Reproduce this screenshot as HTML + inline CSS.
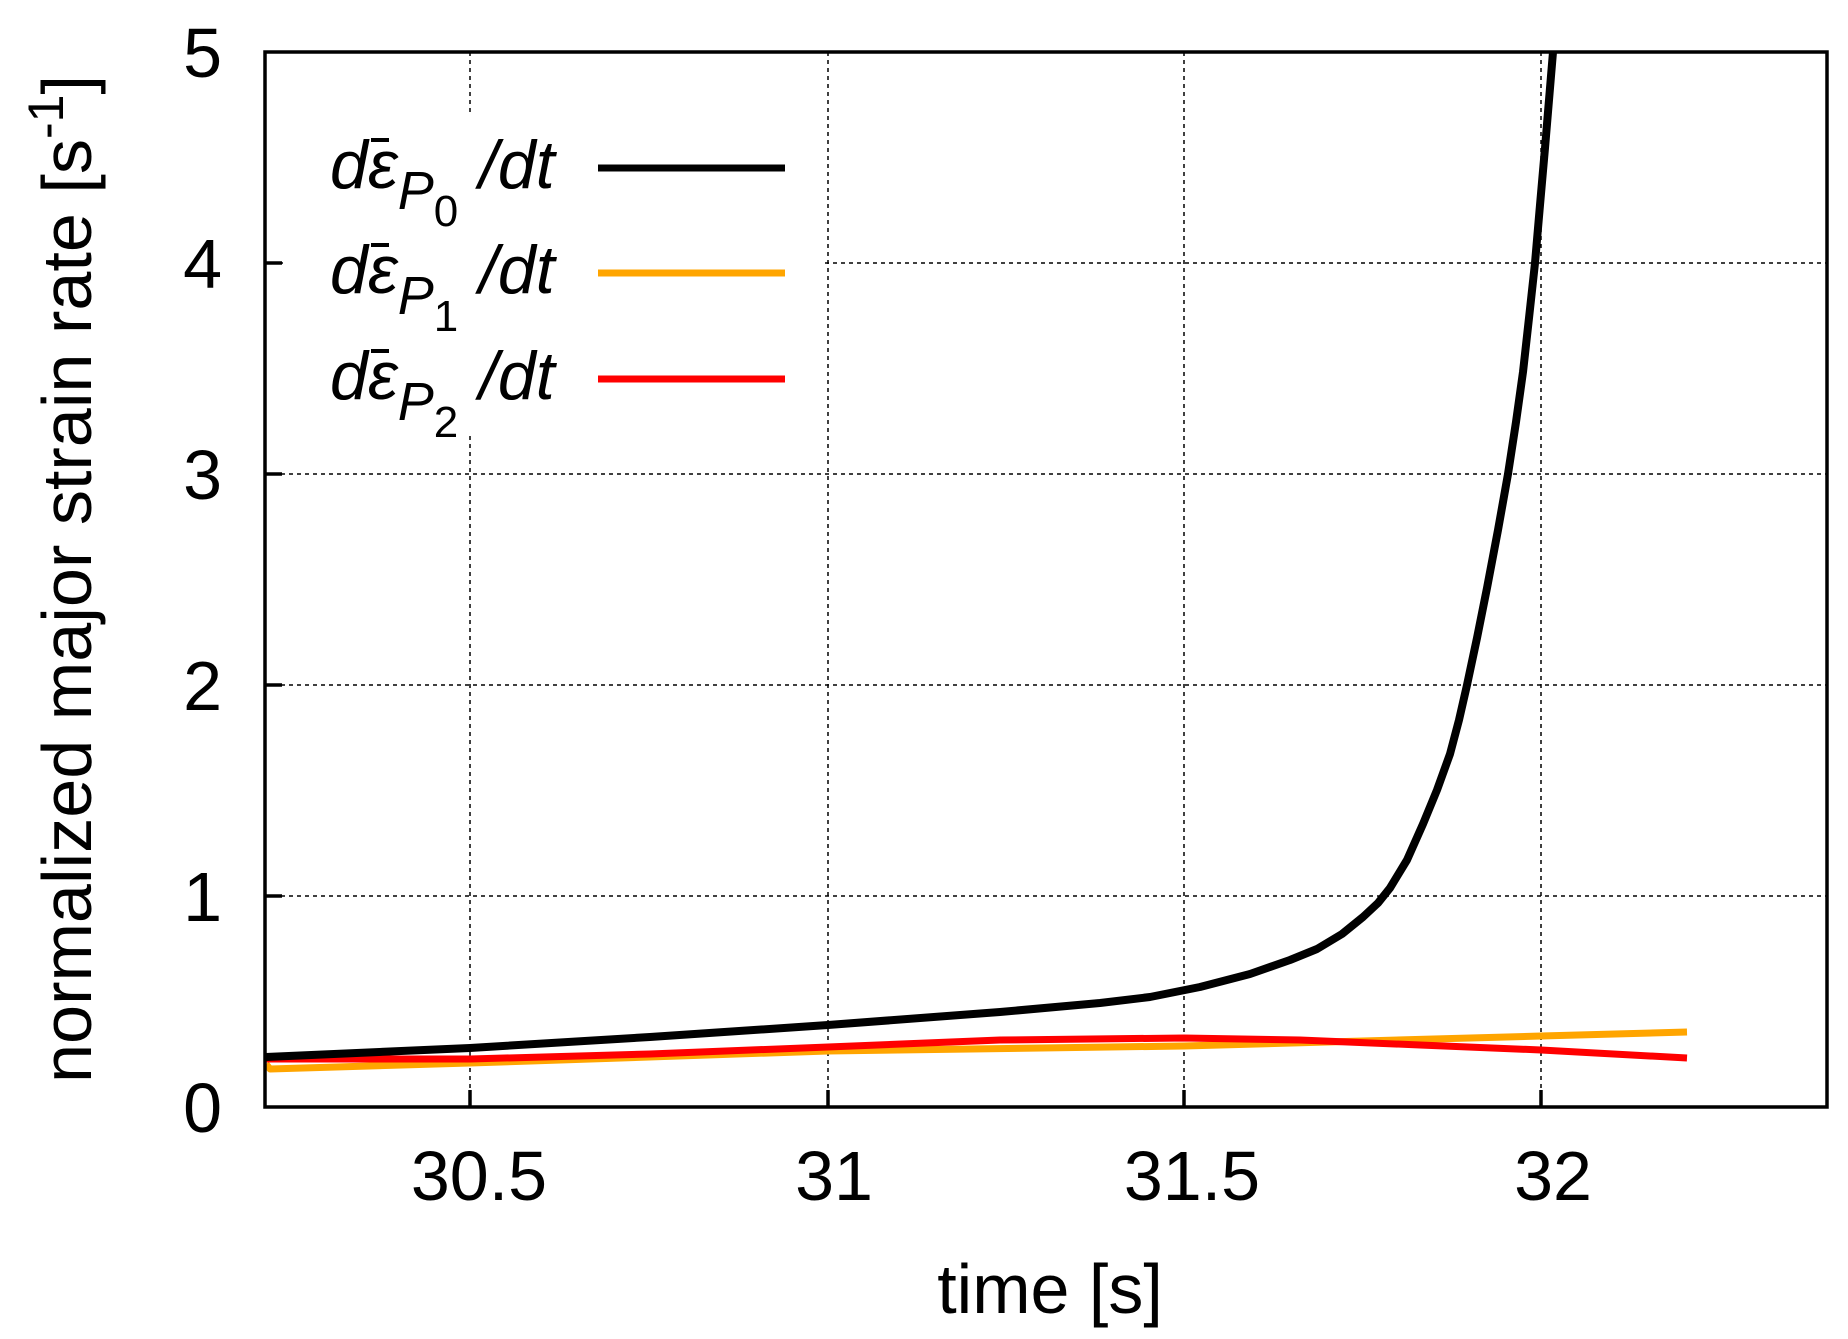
<!DOCTYPE html>
<html><head><meta charset="utf-8"><style>
html,body{margin:0;padding:0;background:#fff;}
svg{display:block;}
text{font-family:"Liberation Sans",sans-serif;fill:#000;}
</style></head><body>
<svg width="1848" height="1339" viewBox="0 0 1848 1339" xmlns="http://www.w3.org/2000/svg">
<rect width="1848" height="1339" fill="#fff"/>
<g stroke="#000" stroke-width="1.5" stroke-dasharray="4,4" fill="none">
<line x1="470" y1="52" x2="470" y2="1107"/>
<line x1="828" y1="52" x2="828" y2="1107"/>
<line x1="1184" y1="52" x2="1184" y2="1107"/>
<line x1="1541" y1="52" x2="1541" y2="1107"/>
<line x1="265" y1="896" x2="1827" y2="896"/>
<line x1="265" y1="685" x2="1827" y2="685"/>
<line x1="265" y1="474" x2="1827" y2="474"/>
<line x1="265" y1="263" x2="1827" y2="263"/>
</g>
<rect x="283" y="115" width="540" height="317" fill="#fff"/>
<g stroke="#000" stroke-width="3.5">
<line x1="470" y1="1107" x2="470" y2="1090"/><line x1="828" y1="1107" x2="828" y2="1090"/>
<line x1="1184" y1="1107" x2="1184" y2="1090"/><line x1="1541" y1="1107" x2="1541" y2="1090"/>
<line x1="265" y1="896" x2="282" y2="896"/><line x1="265" y1="685" x2="282" y2="685"/>
<line x1="265" y1="474" x2="282" y2="474"/><line x1="265" y1="263" x2="282" y2="263"/>
</g>
<g fill="none" stroke-width="7" stroke-linejoin="round">
<polyline stroke="#FFA500" points="266,1064 270,1069 470,1063 828,1051 1184,1046 1541,1036 1687,1032"/>
<polyline stroke="#FF0000" points="266,1059 470,1059 650,1054 828,1047 1000,1040 1184,1038 1300,1040 1420,1045 1541,1050 1687,1058"/>
<polyline stroke="#000" stroke-width="8" points="266,1057 470,1048 650,1037 828,1025 1000,1012 1100,1003 1150,997 1200,987 1250,974 1290,960 1317,949 1342,934 1363,917 1378,903 1390,888 1407,860 1423,824 1437,790 1450,754 1459,720 1467,685 1477,638 1487,588 1498,530 1508,474 1516,422 1523,372 1529,318 1535,263 1540,205 1545,148 1549,100 1553,52"/>
</g>
<rect x="265" y="52" width="1562" height="1055" fill="none" stroke="#000" stroke-width="3.5"/>
<g font-size="70" text-anchor="end">
<text x="222" y="1132">0</text>
<text x="222" y="921">1</text>
<text x="222" y="710">2</text>
<text x="222" y="499">3</text>
<text x="222" y="288">4</text>
<text x="222" y="77">5</text>
</g>
<g font-size="70" text-anchor="middle">
<text x="479" y="1200">30.5</text>
<text x="834" y="1200">31</text>
<text x="1192" y="1200">31.5</text>
<text x="1553" y="1200">32</text>
<text x="1050" y="1313">time [s]</text>
</g>
<text font-size="70" transform="translate(91,1083) rotate(-90)"><tspan textLength="944" lengthAdjust="spacingAndGlyphs">normalized major strain rate [s</tspan><tspan font-size="50" dy="-28">-1</tspan><tspan dy="28">]</tspan></text>
<g font-size="68" font-style="italic">
<text x="330" y="188">dε<tspan font-size="54" dy="21">P</tspan><tspan font-size="44" font-style="normal" dy="17">0</tspan><tspan x="479" dy="-38">/dt</tspan></text>
<text x="330" y="293">dε<tspan font-size="54" dy="21">P</tspan><tspan font-size="44" font-style="normal" dy="17">1</tspan><tspan x="479" dy="-38">/dt</tspan></text>
<text x="330" y="399">dε<tspan font-size="54" dy="21">P</tspan><tspan font-size="44" font-style="normal" dy="17">2</tspan><tspan x="479" dy="-38">/dt</tspan></text>
</g>
<g stroke="#000" stroke-width="4">
<line x1="371" y1="140" x2="389" y2="140"/>
<line x1="371" y1="245" x2="389" y2="245"/>
<line x1="371" y1="351" x2="389" y2="351"/>
</g>
<g stroke-width="7">
<line x1="598" y1="168" x2="785" y2="168" stroke="#000"/>
<line x1="598" y1="273" x2="785" y2="273" stroke="#FFA500"/>
<line x1="598" y1="379" x2="785" y2="379" stroke="#FF0000"/>
</g>
</svg>
</body></html>
